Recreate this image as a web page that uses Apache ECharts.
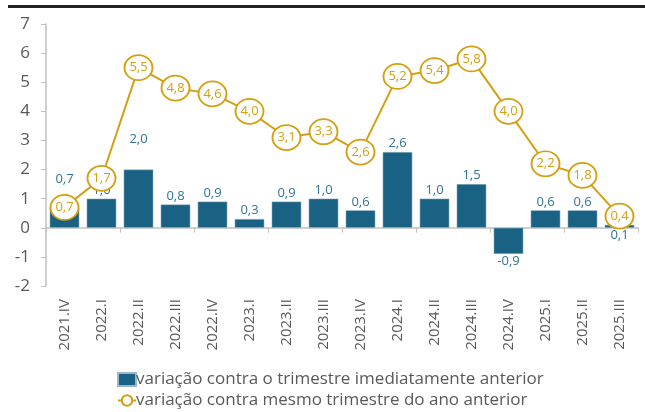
<!DOCTYPE html>
<html><head><meta charset="utf-8">
<script src="https://cdn.jsdelivr.net/npm/echarts@6/dist/echarts.min.js"></script>
<style>html,body{margin:0;padding:0;background:#fff}#c{width:645px;height:412px}</style>
</head><body><div id="c"></div>
<script>
const categories = ['2021.IV','2022.I','2022.II','2022.III','2022.IV','2023.I','2023.II','2023.III','2023.IV','2024.I','2024.II','2024.III','2024.IV','2025.I','2025.II','2025.III'];
const qoq = [0.7,1.0,2.0,0.8,0.9,0.3,0.9,1.0,0.6,2.6,1.0,1.5,-0.9,0.6,0.6,0.1];
const yoy = [0.7,1.7,5.5,4.8,4.6,4.0,3.1,3.3,2.6,5.2,5.4,5.8,4.0,2.2,1.8,0.4];
const yTicks = [-2,-1,0,1,2,3,4,5,6,7];
const nameQoq = 'variação contra o trimestre imediatamente anterior';
const nameYoy = 'variação contra mesmo trimestre do ano anterior';

const FONT = 'Open Sans';
const BAR = '#1a6283';
const BARLBL = '#2f7498';
const GOLD = '#d3a012';
const GREY = '#595959';
const AXIS = '#c0c0c0';
const fmt = v => v.toFixed(1).replace('.', ',');

// label placement tweaks (kept apart from data)
const barLabelShift = {0: [0,-20], 2: [0,-22]};
const barLabelBelow = {12: true, 15: true};

const barData = qoq.map((v,i) => {
  const o = {value: v};
  const lab = {};
  if (v < 0 || barLabelBelow[i]) { lab.position = 'bottom'; lab.distance = 1; }
  if (barLabelShift[i]) lab.offset = barLabelShift[i];
  o.label = lab;
  return o;
});

const legendText = {fontFamily: FONT, fontSize: 17, color: GREY, padding:[0,0,0,-5]};
const chart = echarts.init(document.getElementById('c'), null, {renderer:'canvas'});
chart.setOption({
  animation: false,
  textStyle: {fontFamily: FONT},
  graphic: [{type:'rect', shape:{x:8,y:5,width:637,height:3}, style:{fill:'#222'}}],
  grid: {left: 46, right: 7, top: 24, bottom: 126, containLabel: false},
  legend: [{
    left: 112, top: 366, itemWidth: 18, itemHeight: 13, textStyle: legendText,
    data: [{name: nameQoq, icon: 'rect', itemStyle:{color:BAR}}]
  },{
    left: 112, top: 387, itemWidth: 18, itemHeight: 13, textStyle: legendText,
    data: [{name: nameYoy}]
  }],
  xAxis: [{
    type: 'category', data: categories,
    axisLine: {onZero: true, lineStyle: {color: AXIS, width: 1.5}},
    axisTick: {show: true, length: 5, lineStyle:{color: AXIS}},
    axisLabel: {show: false}
  },{
    type: 'category', data: categories, position: 'bottom',
    axisLine: {show: false, onZero: false}, axisTick: {show: false},
    axisLabel: {rotate: 90, fontSize: 15, color: GREY, margin: 13, fontFamily: FONT, interval: 0}
  }],
  yAxis: {
    type: 'value', min: yTicks[0], max: yTicks[yTicks.length-1], interval: 1,
    axisLine: {show: true, lineStyle: {color: AXIS, width: 1.5}},
    axisTick: {show: true, length: 5, lineStyle:{color: AXIS}},
    splitLine: {show: false},
    axisLabel: {fontSize: 17, color: GREY, margin: 16, fontFamily: FONT}
  },
  series: [{
    name: nameQoq, type: 'bar', data: barData, barCategoryGap: '20%',
    itemStyle: {color: BAR, borderColor: '#9cb8c6', borderWidth: 0.5},
    label: {show: true, position: 'top', distance: 2, color: BARLBL, fontSize: 13, fontFamily: FONT,
      formatter: p => fmt(p.value)},
    z: 2
  },{
    name: nameYoy, type: 'line', data: yoy, showAllSymbol: true,
    symbol: 'circle', symbolSize: [28, 25],
    lineStyle: {color: GOLD, width: 2},
    itemStyle: {color: '#fff', borderColor: GOLD, borderWidth: 1.8},
    label: {show: true, position: 'inside', color: GOLD, fontSize: 13, fontFamily: FONT,
      formatter: p => fmt(p.value)},
    z: 3
  }]
});
</script></body></html>
